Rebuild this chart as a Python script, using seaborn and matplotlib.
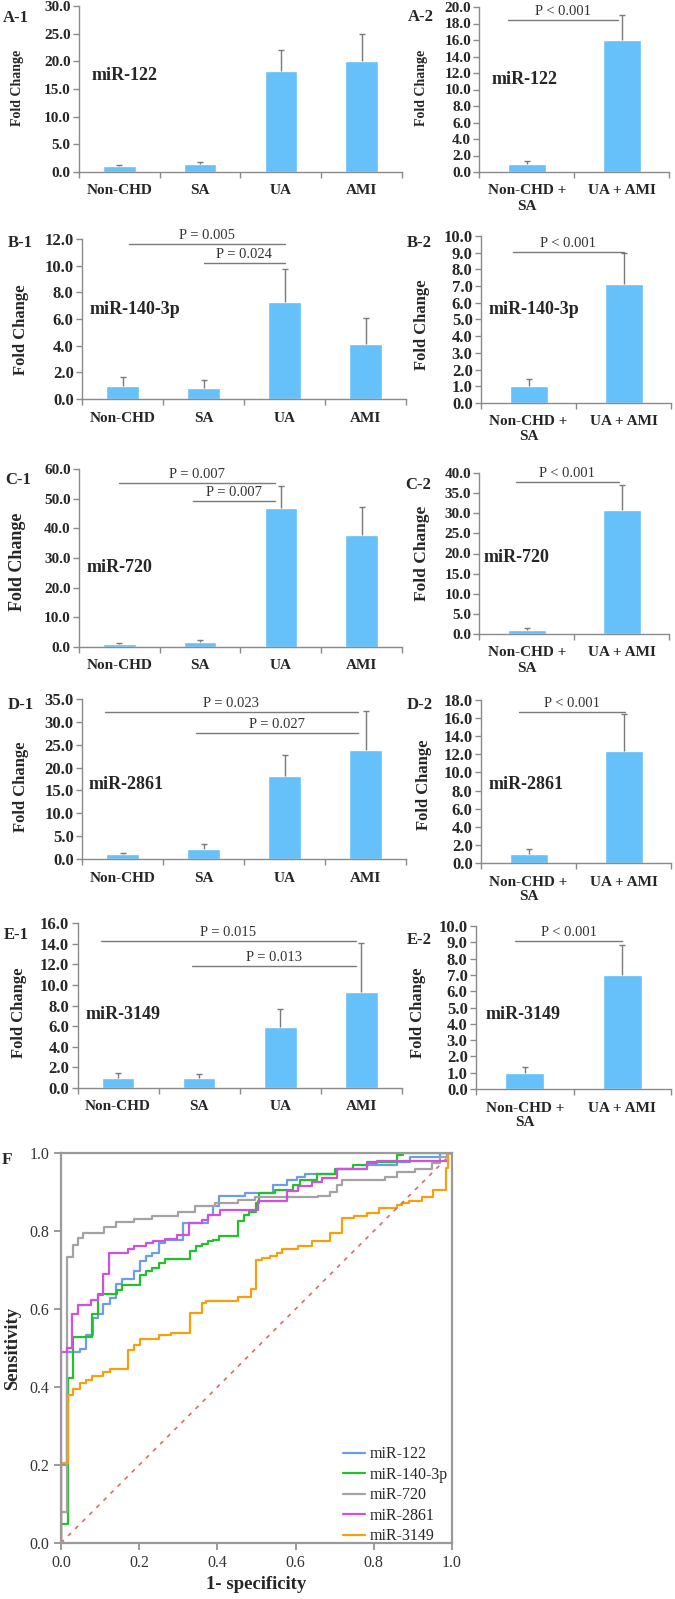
import numpy as np
import pandas as pd
import matplotlib
matplotlib.use("Agg")
import matplotlib.pyplot as plt
from matplotlib.lines import Line2D
import seaborn as sns

sns.set_theme(style="white")
plt.rcParams["font.family"] = ["Liberation Serif", "DejaVu Serif"]

# ---------------- data ----------------
groups4 = ["Non-CHD", "SA", "UA", "AMI"]
groups2 = ["Non-CHD +\nSA", "UA + AMI"]
mirnas = ["miR-122", "miR-140-3p", "miR-720", "miR-2861", "miR-3149"]

a1_mean = [1.0, 1.4, 18.3, 20.0]
a1_err = [0.3, 0.4, 3.7, 5.0]
a2_mean = [1.0, 16.0]
a2_err = [0.3, 3.0]
b1_mean = [1.0, 0.85, 7.3, 4.1]
b1_err = [0.65, 0.55, 2.45, 1.95]
b2_mean = [1.0, 7.1]
b2_err = [0.45, 1.9]
c1_mean = [1.0, 1.8, 46.8, 37.8]
c1_err = [0.3, 0.6, 7.6, 9.4]
c2_mean = [1.0, 30.9]
c2_err = [0.4, 6.2]
d1_mean = [1.0, 2.1, 18.1, 23.9]
d1_err = [0.4, 1.1, 4.6, 8.4]
d2_mean = [1.0, 12.4]
d2_err = [0.55, 4.1]
e1_mean = [1.0, 0.95, 5.9, 9.3]
e1_err = [0.5, 0.45, 1.75, 4.8]
e2_mean = [1.0, 7.0]
e2_err = [0.35, 1.85]

# significance annotations: (text, from category, to category, height)
b1_p = [("P = 0.005", 0.08, 2.0, 11.6), ("P = 0.024", 1.0, 2.0, 10.2)]
c1_p = [("P = 0.007", 0.0, 1.93, 55.4), ("P = 0.007", 0.91, 1.93, 49.3)]
d1_p = [("P = 0.023", -0.22, 2.91, 32.2), ("P = 0.027", 0.91, 2.91, 27.5)]
e1_p = [("P = 0.015", -0.21, 2.93, 14.3), ("P = 0.013", 0.91, 2.93, 11.8)]
a2_p = [("P < 0.001", -0.2, 0.96, 18.4)]
b2_p = [("P < 0.001", -0.16, 1.0, 9.06)]
c2_p = [("P < 0.001", -0.12, 0.97, 37.8)]
d2_p = [("P < 0.001", -0.1, 1.02, 16.7)]
e2_p = [("P < 0.001", -0.1, 1.0, 9.08)]

# ROC curves (1-specificity, sensitivity) step vertices
roc_122_fpr = [0, 0.0, 0.016, 0.049, 0.063, 0.083, 0.094, 0.107, 0.125, 0.141, 0.155, 0.187, 0.202, 0.217,
               0.234, 0.251, 0.266, 0.313, 0.377, 0.39, 0.404, 0.471, 0.543, 0.577, 0.603, 0.624, 0.705,
               0.782, 0.859, 0.893, 0.97, 1.0]
roc_122_tpr = [0, 0.2, 0.49, 0.497, 0.534, 0.578, 0.588, 0.612, 0.629, 0.663, 0.676, 0.697, 0.723, 0.735,
               0.744, 0.769, 0.778, 0.821, 0.842, 0.864, 0.889, 0.898, 0.917, 0.93, 0.938, 0.945, 0.96,
               0.968, 0.977, 0.991, 1.0, 1.0]
roc_140_fpr = [0, 0.0, 0.017, 0.031, 0.079, 0.094, 0.142, 0.155, 0.202, 0.217, 0.234, 0.251, 0.266, 0.33,
               0.344, 0.36, 0.377, 0.39, 0.404, 0.452, 0.469, 0.48, 0.5, 0.506, 0.547, 0.594, 0.611, 0.654,
               0.701, 0.748, 0.782, 0.859, 0.875, 1.0]
roc_140_tpr = [0, 0.05, 0.422, 0.529, 0.588, 0.639, 0.65, 0.661, 0.688, 0.697, 0.705, 0.718, 0.729, 0.748,
               0.761, 0.767, 0.774, 0.778, 0.786, 0.825, 0.842, 0.85, 0.872, 0.898, 0.906, 0.919, 0.932,
               0.945, 0.96, 0.968, 0.977, 0.994, 1.0, 1.0]
roc_720_fpr = [0, 0.0, 0.016, 0.031, 0.043, 0.057, 0.11, 0.14, 0.187, 0.232, 0.30, 0.343, 0.394, 0.453,
               0.497, 0.657, 0.688, 0.705, 0.719, 0.829, 0.859, 0.905, 0.948, 0.969, 0.986, 1.0]
roc_720_tpr = [0, 0.08, 0.733, 0.764, 0.781, 0.796, 0.81, 0.822, 0.83, 0.838, 0.85, 0.864, 0.873, 0.88,
               0.886, 0.89, 0.899, 0.917, 0.932, 0.938, 0.951, 0.96, 0.974, 0.99, 1.0, 1.0]
roc_2861_fpr = [0, 0.0, 0.015, 0.029, 0.044, 0.077, 0.094, 0.108, 0.123, 0.172, 0.187, 0.217, 0.236, 0.266,
                0.296, 0.327, 0.36, 0.375, 0.407, 0.503, 0.577, 0.607, 0.641, 0.667, 0.705, 0.782, 0.807,
                0.99, 1.0]
roc_2861_tpr = [0, 0.49, 0.5, 0.588, 0.611, 0.622, 0.637, 0.69, 0.744, 0.755, 0.761, 0.769, 0.775, 0.78,
                0.791, 0.821, 0.829, 0.842, 0.855, 0.878, 0.902, 0.915, 0.926, 0.937, 0.96, 0.974, 0.98,
                1.0, 1.0]
roc_3149_fpr = [0, 0.0, 0.017, 0.031, 0.049, 0.063, 0.079, 0.108, 0.125, 0.172, 0.187, 0.202, 0.251, 0.281,
                0.33, 0.36, 0.37, 0.453, 0.486, 0.5, 0.513, 0.535, 0.552, 0.564, 0.607, 0.641, 0.688, 0.719,
                0.75, 0.782, 0.813, 0.859, 0.871, 0.89, 0.922, 0.952, 0.984, 0.99]
roc_3149_tpr = [0, 0.206, 0.379, 0.396, 0.409, 0.419, 0.427, 0.438, 0.447, 0.496, 0.507, 0.522, 0.533, 0.539,
                0.589, 0.615, 0.62, 0.63, 0.652, 0.726, 0.73, 0.736, 0.744, 0.755, 0.761, 0.775, 0.795, 0.833,
                0.839, 0.846, 0.858, 0.866, 0.873, 0.878, 0.887, 0.906, 0.962, 1.0]

# ---------------- styling ----------------
W, H = 675, 1599
BAR = "#66C0FA"
GRAY = "#8a8a8a"
ERR = "#7a7a7a"
fig = plt.figure(figsize=(W / 100, H / 100), dpi=100)
fig.patch.set_facecolor("white")


def axes_px(x0, x1, y0, y1):
    return fig.add_axes([x0 / W, 1 - y1 / H, (x1 - x0) / W, (y1 - y0) / H])


def bar_panel(box, cats, means, errs, ymax, step, label, label_xy, mir, mir_xy,
              ylab_xy, pvals, tick_fs=11, ylab_fs=12):
    ax = axes_px(*box)
    df = pd.DataFrame({"group": cats, "fold": means})
    sns.barplot(data=df, x="group", y="fold", color=BAR, width=0.4, errorbar=None,
                saturation=1, ax=ax, order=cats)
    n = len(cats)
    _, caps, _ = ax.errorbar(np.arange(n), means, yerr=[np.zeros(n), errs], fmt="none", ecolor=ERR,
                             elinewidth=1.0, capsize=2.5, capthick=1.0)
    if len(caps) == 2:
        caps[0].set_visible(False)
    ax.set_xlim(-0.5, n - 0.5)
    ax.set_ylim(0, ymax)
    yt = np.arange(0, ymax + step / 2, step)
    ax.set_yticks(yt)
    ax.set_yticklabels([f"{v:.1f}" for v in yt], fontsize=tick_fs, fontweight="bold")
    ax.set_xticks(np.arange(n))
    ax.set_xticklabels(cats, fontsize=11, fontweight="bold")
    ax.set_xticks(np.arange(-0.5, n, 1.0), minor=True)
    ax.tick_params(axis="x", which="major", length=0, pad=9)
    ax.tick_params(axis="x", which="minor", length=4, width=1, color=GRAY, bottom=True, direction="out")
    ax.tick_params(axis="y", which="major", length=4, width=1, color=GRAY, left=True, direction="out", pad=2)
    ax.set_xlabel("")
    ax.set_ylabel("")
    for s in ["top", "right"]:
        ax.spines[s].set_visible(False)
    for s in ["left", "bottom"]:
        ax.spines[s].set_color(GRAY)
        ax.spines[s].set_linewidth(1.0)
    ax.set_facecolor("none")
    for txt, x0, x1, yv in pvals:
        ax.plot([x0, x1], [yv, yv], color="#7a7a7a", lw=1.0, clip_on=False)
        ax.text((x0 + x1) / 2, yv + ymax * 0.012, txt, ha="center", va="bottom",
                fontsize=10.5, color="#333333")
    fig.text(label_xy[0] / W, 1 - label_xy[1] / H, label, fontsize=12, fontweight="bold",
             ha="left", va="center")
    fig.text(mir_xy[0] / W, 1 - mir_xy[1] / H, mir, fontsize=13, fontweight="bold",
             ha="left", va="center")
    fig.text(ylab_xy[0] / W, 1 - ylab_xy[1] / H, "Fold Change", fontsize=ylab_fs, fontweight="bold",
             rotation=90, ha="center", va="center")
    return ax


# Row A
bar_panel((79, 402, 6, 172), groups4, a1_mean, a1_err, 30, 5, "A-1", (3, 18), mirnas[0], (92, 76),
          (18, 88), [], tick_fs=11, ylab_fs=10)
bar_panel((479.5, 669.5, 7, 172), groups2, a2_mean, a2_err, 20, 2, "A-2", (408, 17), mirnas[0], (492, 80),
          (422, 88), a2_p, tick_fs=11, ylab_fs=10)
# Row B
bar_panel((82, 406, 239, 399), groups4, b1_mean, b1_err, 12, 2, "B-1", (8, 243), mirnas[1], (90, 310),
          (21, 330), b1_p, tick_fs=12, ylab_fs=12)
bar_panel((481, 671, 236, 403), groups2, b2_mean, b2_err, 10, 1, "B-2", (407, 243), mirnas[1], (489, 310),
          (422, 325), b2_p, tick_fs=12, ylab_fs=12)
# Row C
bar_panel((79, 402, 469, 647), groups4, c1_mean, c1_err, 60, 10, "C-1", (5, 480), mirnas[2], (87, 567),
          (18, 562), c1_p, tick_fs=11, ylab_fs=13)
bar_panel((479.5, 669.5, 473, 634), groups2, c2_mean, c2_err, 40, 5, "C-2", (405, 485), mirnas[2], (484, 558),
          (422, 553), c2_p, tick_fs=11, ylab_fs=12.5)
# Row D
bar_panel((82, 406, 699, 859), groups4, d1_mean, d1_err, 35, 5, "D-1", (8, 705), mirnas[3], (89, 785),
          (21, 787), d1_p, tick_fs=12, ylab_fs=12)
bar_panel((481, 671, 700, 863), groups2, d2_mean, d2_err, 18, 2, "D-2", (407, 705), mirnas[3], (489, 785),
          (424, 785), d2_p, tick_fs=12, ylab_fs=12)
# Row E
bar_panel((77.5, 402, 923, 1088), groups4, e1_mean, e1_err, 16, 2, "E-1", (4, 935), mirnas[4], (86, 1015),
          (19, 1013), e1_p, tick_fs=12, ylab_fs=12)
bar_panel((476, 671, 926, 1089), groups2, e2_mean, e2_err, 10, 1, "E-2", (407, 940), mirnas[4], (486, 1015),
          (418, 1013), e2_p, tick_fs=12, ylab_fs=12)

# ---------------- ROC panel ----------------
ax = axes_px(61, 452, 1153, 1543)
roc_colors = ["#6E9BEA", "#22C02A", "#A3A3A3", "#D050E0", "#F6A00E"]
roc_fpr = [roc_122_fpr, roc_140_fpr, roc_720_fpr, roc_2861_fpr, roc_3149_fpr]
roc_tpr = [roc_122_tpr, roc_140_tpr, roc_720_tpr, roc_2861_tpr, roc_3149_tpr]
for name, fx, ty, col in zip(mirnas, roc_fpr, roc_tpr, roc_colors):
    dfr = pd.DataFrame({"fpr": fx, "tpr": ty})
    sns.lineplot(data=dfr, x="fpr", y="tpr", estimator=None, sort=False, color=col, lw=1.6,
                 drawstyle="steps-post", ax=ax)
sns.lineplot(x=[0, 1], y=[0, 1], color="#E06A6A", lw=1.2, ax=ax, estimator=None, sort=False,
             linestyle=(0, (2.5, 3.5)))
ax.set_xlim(0, 1)
ax.set_ylim(0, 1)
ticks = np.arange(0, 1.01, 0.2)
ax.set_xticks(ticks)
ax.set_yticks(ticks)
ax.set_xticklabels([f"{t:.1f}" for t in ticks], fontsize=11.5, color="#333333")
ax.set_yticklabels([f"{t:.1f}" for t in ticks], fontsize=11.5, color="#333333")
ax.tick_params(axis="both", length=5, width=1.2, color=GRAY, bottom=True, left=True, direction="out")
for s in ax.spines.values():
    s.set_color("#9a9a9a")
    s.set_linewidth(1.6)
ax.set_xlabel("1- specificity", fontsize=13.5, fontweight="bold", labelpad=4)
ax.set_ylabel("Sensitivity", fontsize=13.5, fontweight="bold", labelpad=6)
handles = [Line2D([0], [0], color=c, lw=1.6) for c in roc_colors]
ax.legend(handles, mirnas, loc="upper left", bbox_to_anchor=(0.70, 0.268), frameon=False,
          handlelength=1.4, labelspacing=0.28, handletextpad=0.3, borderpad=0,
          prop={"family": ["Liberation Serif"], "size": 11.5})
fig.text(2 / W, 1 - 1160 / H, "F", fontsize=12.5, fontweight="bold", ha="left", va="center")

fig.savefig("out.png", dpi=100, facecolor="white")
